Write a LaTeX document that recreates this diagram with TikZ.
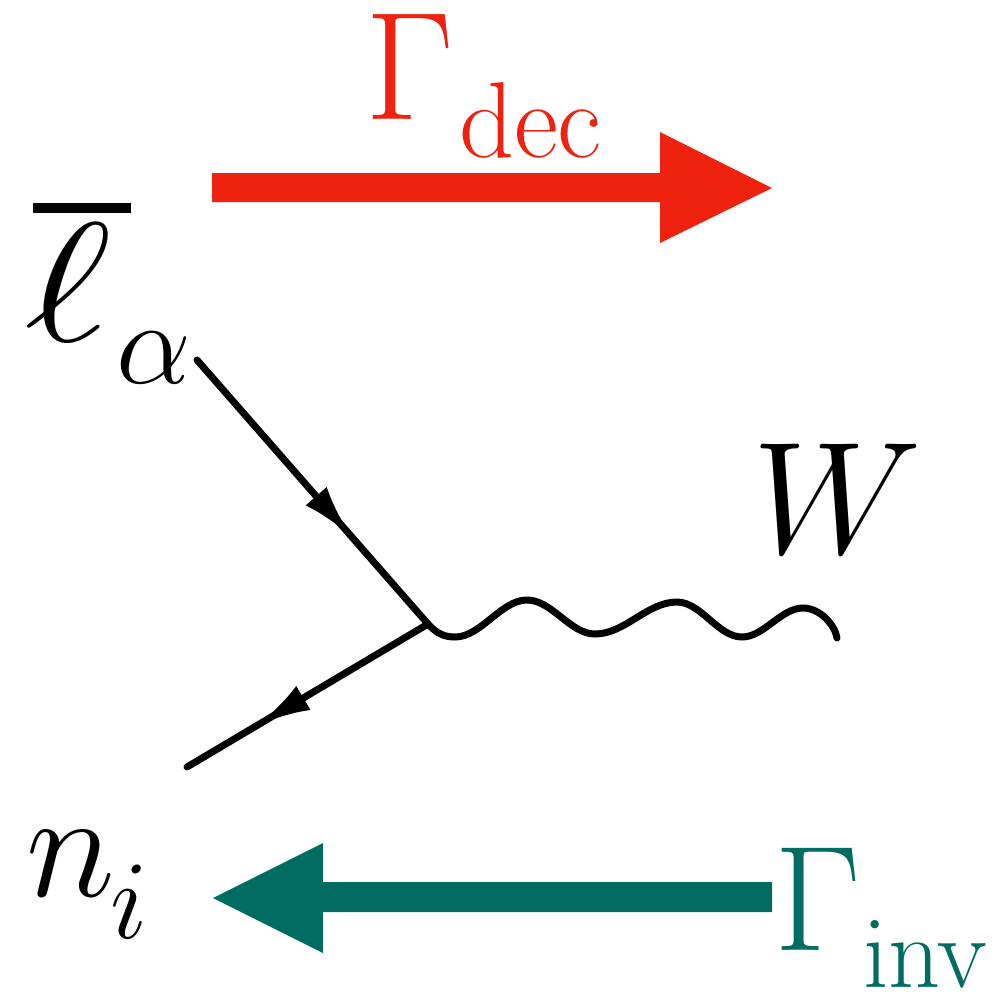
\RequirePackage{fix-cm}
\documentclass[tikz,border=0pt]{standalone}
\usetikzlibrary{arrows.meta,decorations.markings}
\definecolor{decred}{RGB}{238,34,14}
\definecolor{invteal}{RGB}{0,108,98}
\tikzset{
  txt/.style={inner sep=0pt, outer sep=0pt, anchor=base west},
  fermion/.style={line width=7pt, line cap=round, line join=round},
  fermarrow/.style={postaction={decorate, decoration={markings,
     mark=at position #1 with {\arrow{Latex[length=54pt,width=28pt]}}}}},
  boson/.style={line width=7pt, line cap=round, line join=round},
}
\begin{document}
\begin{tikzpicture}[x=1pt,y=-1pt]
\useasboundingbox (0,0) rectangle (1004,994);
% coordinates
\coordinate (a) at (197,360);
\coordinate (v) at (428,624);
\coordinate (b) at (187,767);
\coordinate (wend) at (837,638);
% red arrow
\fill[decred] (212,173) -- (660,173) -- (660,132) -- (772,188) -- (660,243) -- (660,202) -- (212,202) -- cycle;
% teal arrow
\fill[invteal] (772,882) -- (323,882) -- (323,843) -- (213,898) -- (323,953) -- (323,912) -- (772,912) -- cycle;
% texts
\node[txt, text=decred] (Gdec) at (365,119) {\fontsize{154}{154}\selectfont$\Gamma$};
\node[txt, text=decred] (dec) at (459,157) {\fontsize{108}{108}\selectfont$\mathrm{dec}$};
\node[txt, text=invteal] (Ginv) at (774,950) {\fontsize{150}{150}\selectfont$\Gamma$};
\node[txt, text=invteal] (inv) at (863,987) {\fontsize{102}{102}\selectfont$\mathrm{inv}$};
\node[txt] (W) at (752,553) {\fontsize{160}{160}\selectfont$W$};
\node[txt] (n) at (26,896) {\fontsize{152}{152}\selectfont$n$};
\node[txt] (i) at (110,938) {\fontsize{112}{112}\selectfont$i$};
\node[txt] (ell) at (24,341) {\fontsize{170}{170}\selectfont\scalebox{1.25}[1]{$\ell$}};
\node[txt] (alpha) at (116,383) {\fontsize{119}{119}\selectfont$\alpha$};
\fill (33,203) rectangle (131,213);
% fermion lines
\draw[fermion, fermarrow=0.67] (a) -- (v);
\draw[fermion, fermarrow=0.71] (v) -- (b);
% boson
\draw[boson] (v) .. controls (437,634) and (445,637) .. (455,637)
  .. controls (481,637) and (501,600) .. (527,600)
  .. controls (552,600) and (570,634) .. (595,634)
  .. controls (625,634) and (647,602) .. (677,602)
  .. controls (701,602) and (718,637) .. (742,637)
  .. controls (764,637) and (781,608) .. (803,608)
  .. controls (820,608) and (835,625) .. (wend);
\end{tikzpicture}
\end{document}
